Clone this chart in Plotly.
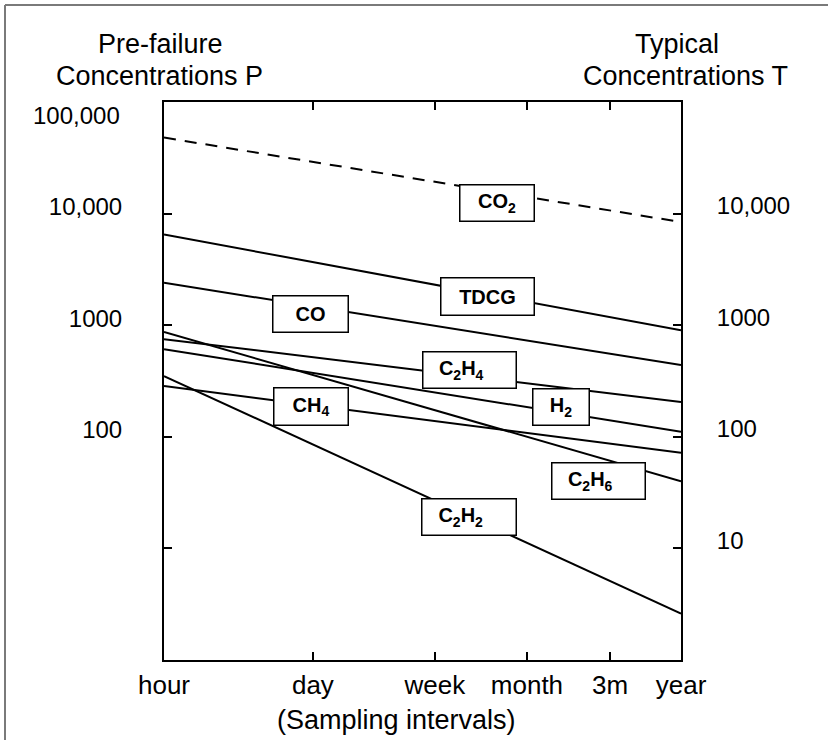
import plotly.graph_objects as go

# ---- data ----
intervals = ["hour", "day", "week", "month", "3m", "year"]
interval_pos = [0, 28.8, 52.4, 70.2, 86.3, 100]   # axis scale of sampling intervals

gases = ["CO2", "TDCG", "CO", "C2H4", "H2", "C2H6", "CH4", "C2H2"]
gas_labels = ["CO<sub>2</sub>", "TDCG", "CO", "C<sub>2</sub>H<sub>4</sub>", "H<sub>2</sub>",
              "C<sub>2</sub>H<sub>6</sub>", "CH<sub>4</sub>", "C<sub>2</sub>H<sub>2</sub>"]
prefailure_P = [48000, 6500, 2400, 750, 610, 870, 285, 350]   # at "hour"
typical_T = [8400, 900, 440, 205, 111, 40, 72, 2.6]            # at "year"

left_tickvals = [100000, 10000, 1000, 100, 10]
left_ticktext = ["100,000", "10,000", "1000", "100", ""]
right_tickvals = [10000, 1000, 100, 10]
right_ticktext = ["10,000", "1000", "100", "10"]

FONT = "Liberation Sans, Arial, sans-serif"

fig = go.Figure()
for g, p, t in zip(gases, prefailure_P, typical_T):
    fig.add_trace(go.Scatter(
        x=[interval_pos[0], interval_pos[-1]], y=[p, t], mode="lines",
        line=dict(color="black", width=2, dash="12px,9px" if g == "CO2" else "solid"),
        name=g, hoverinfo="name"))
# invisible trace to anchor the right-hand axis
fig.add_trace(go.Scatter(x=[None], y=[None], yaxis="y2", showlegend=False))

# label boxes (center in axis units: x, log10 y), box sizes in px, trailing pad (text sits left)
box_pos = {
    "CO2": (64.4, 4.094, 75, 37, 0),
    "TDCG": (62.5, 3.261, 94, 38, 0),
    "CO": (28.4, 3.100, 76, 37, 0),
    "C2H4": (59.0, 2.599, 94, 37, 3),
    "H2": (76.8, 2.268, 57, 37, 0),
    "CH4": (28.4, 2.268, 75, 38, 0),
    "C2H6": (84.1, 1.605, 94, 37, 3),
    "C2H2": (59.0, 1.283, 95, 37, 3),
}
for g, lab in zip(gases, gas_labels):
    bx, by, bw, bh, pad = box_pos[g]
    fig.add_annotation(x=bx, y=by, xref="x", yref="y",
                       text="<b>" + lab + "</b>" + "&nbsp;" * pad,
                       showarrow=False, width=bw - 2, height=bh - 2, borderpad=0,
                       bordercolor="black", borderwidth=1.5, bgcolor="white",
                       font=dict(family=FONT, size=20, color="black"))

L, R, T, B = 164, 681, 102, 660
W, H = R - L, B - T


def px(xp):
    return (xp - L) / W


def py(yp):
    return (B - yp) / H


title_font = dict(family=FONT, size=27, color="black")
for text, xc, yc in [("Pre-failure", 160, 43.5), ("Concentrations P", 159, 76),
                     ("Typical", 677, 43.5), ("Concentrations T", 685, 76),
                     ("(Sampling intervals)", 396, 720)]:
    fig.add_annotation(x=px(xc), y=py(yc), xref="paper", yref="paper", text=text,
                       showarrow=False, xanchor="center", yanchor="middle", font=title_font)

# top left-axis label sits a little below the frame corner in the original
fig.add_annotation(x=px(122), y=5, xref="paper", yref="y", yshift=-13, text=left_ticktext[0],
                   showarrow=False, xanchor="right", yanchor="middle",
                   font=dict(family=FONT, size=24, color="black"))
left_ticktext_axis = [""] + left_ticktext[1:]

# outer picture border (left and top)
fig.add_shape(type="line", xref="paper", yref="paper", x0=px(5), x1=px(5), y0=py(5), y1=py(745),
              line=dict(color="#7a7a7a", width=2))
fig.add_shape(type="line", xref="paper", yref="paper", x0=px(5), x1=px(830), y0=py(5), y1=py(5),
              line=dict(color="#7a7a7a", width=2))

axis_common = dict(showgrid=False, zeroline=False, showline=True, linecolor="black",
                   linewidth=2, ticks="inside", ticklen=8, tickwidth=2, tickcolor="black")

fig.update_layout(
    width=828, height=740,
    margin=dict(l=L, r=828 - R, t=T, b=740 - B),
    paper_bgcolor="white", plot_bgcolor="white",
    showlegend=False,
    xaxis=dict(range=[0, 100], tickvals=interval_pos, ticktext=intervals,
               mirror="ticks", tickfont=dict(family=FONT, size=26, color="black"),
               ticklabelstandoff=1, **axis_common),
    yaxis=dict(type="log", range=[0, 5], tickvals=left_tickvals, ticktext=left_ticktext_axis,
               mirror=True, tickfont=dict(family=FONT, size=24, color="black"),
               ticklabelstandoff=35, ticklabelshift=-7, **axis_common),
    yaxis2=dict(type="log", range=[0, 5], overlaying="y", side="right",
                tickvals=right_tickvals, ticktext=right_ticktext,
                tickfont=dict(family=FONT, size=24, color="black"),
                ticklabelstandoff=29, ticklabelshift=-8, **axis_common),
)

fig.write_html("out.html", config={"displayModeBar": False},
               post_script="document.body.style.margin='0px';")
